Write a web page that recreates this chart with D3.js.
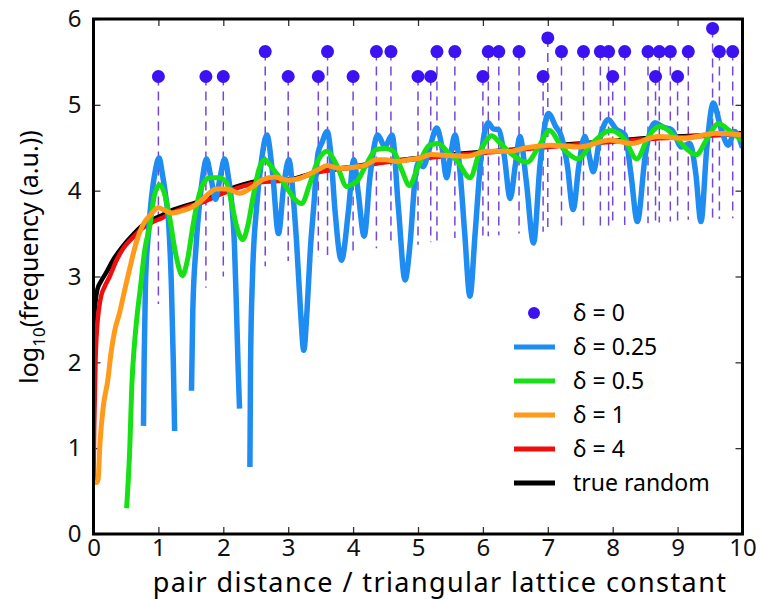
<!DOCTYPE html>
<html>
<head>
<meta charset="utf-8">
<script src="https://cdn.jsdelivr.net/npm/d3@7"></script>
<style>
  body { margin: 0; background: #fff; }
  svg { display: block; font-family: "Noto Sans", "Open Sans", sans-serif; }
</style>
</head>
<body>
<svg id="chart" width="760" height="599"></svg>
<script>
// lattice distances (delta = 0) and their log10 frequency
const distances = [1, 1.732, 2, 2.646, 3, 3.464, 3.606, 4, 4.359, 4.583, 5, 5.196, 5.292, 5.568,
  6, 6.083, 6.245, 6.557, 6.928, 7, 7.211, 7.55, 7.81, 7.937, 8, 8.185, 8.544, 8.66, 8.718,
  8.888, 9, 9.165, 9.539, 9.644, 9.849];
const deltaZero = [5.33, 5.33, 5.33, 5.62, 5.33, 5.33, 5.62, 5.33, 5.62, 5.62, 5.33, 5.33, 5.62, 5.62,
  5.33, 5.62, 5.62, 5.62, 5.33, 5.78, 5.62, 5.62, 5.62, 5.62, 5.33, 5.62, 5.62, 5.33, 5.62,
  5.62, 5.33, 5.62, 5.89, 5.62, 5.62];
// lower end of each dashed stem
const stemBase = [2.68, 2.87, 3.0, 3.12, 3.18, 3.23, 3.25, 3.29, 3.33, 3.35, 3.37, 3.4, 3.41, 3.45,
  3.47, 3.47, 3.48, 3.5, 3.52, 3.52, 3.54, 3.57, 3.58, 3.58, 3.59, 3.6, 3.62, 3.63, 3.63,
  3.64, 3.65, 3.66, 3.67, 3.67, 3.68];

// [x, log10 freq]; null = no counts (gap)
const delta025 = [[0.77,1.26],[0.78,2.0],[0.8,2.9],[0.84,3.45],[0.89,3.89],[0.95,4.22],[1.01,4.38],
  [1.06,4.2],[1.11,3.95],[1.16,3.6],[1.2,2.9],[1.23,2.0],[1.25,1.2],[1.38,null],
  [1.51,1.67],[1.53,2.6],[1.58,3.35],[1.64,3.89],[1.69,4.2],[1.74,4.37],[1.81,4.15],[1.88,3.9],
  [1.95,4.15],[2.02,4.37],[2.08,4.15],[2.13,3.85],[2.17,3.4],[2.2,2.7],[2.23,1.9],[2.25,1.46],[2.33,null],
  [2.41,0.78],[2.42,2.0],[2.45,3.0],[2.51,3.78],[2.59,4.36],[2.67,4.65],[2.76,4.2],[2.85,3.5],
  [2.93,4.05],[3.01,4.36],[3.08,3.9],[3.13,3.39],[3.19,2.6],[3.24,2.14],[3.29,2.6],[3.34,3.3],
  [3.39,3.78],[3.46,4.44],[3.52,4.56],[3.6,4.69],[3.66,4.4],[3.72,3.78],[3.82,3.19],[3.93,3.78],
  [4.01,4.36],[4.08,3.97],[4.17,3.47],[4.26,4.16],[4.38,4.65],[4.49,4.51],[4.6,4.65],[4.7,3.78],
  [4.8,2.96],[4.88,3.4],[4.95,4.1],[5.0,4.32],[5.08,4.28],[5.18,4.5],[5.29,4.73],[5.37,4.5],
  [5.44,4.15],[5.5,4.4],[5.57,4.65],[5.65,4.2],[5.72,3.5],[5.8,2.77],[5.88,3.5],[5.96,4.3],
  [6.08,4.79],[6.16,4.72],[6.24,4.71],[6.33,4.4],[6.42,3.91],[6.5,4.3],[6.57,4.63],[6.67,4.1],
  [6.78,3.39],[6.88,4.3],[7.01,4.9],[7.12,4.75],[7.21,4.63],[7.3,4.3],[7.39,3.78],[7.48,4.3],
  [7.57,4.63],[7.64,4.4],[7.7,4.22],[7.8,4.6],[7.93,4.83],[8.05,4.72],[8.19,4.65],[8.28,4.2],
  [8.38,3.64],[8.5,4.4],[8.65,4.79],[8.78,4.74],[8.91,4.71],[9.06,4.51],[9.19,4.55],[9.28,4.2],
  [9.36,3.64],[9.45,4.5],[9.55,5.02],[9.66,4.75],[9.78,4.53],[9.88,4.69],[10.0,4.5]];

const delta05 = [[0.51,0.3],[0.56,1.02],[0.59,1.72],[0.63,2.2],[0.68,2.6],[0.72,2.85],[0.79,3.31],
  [0.87,3.6],[0.94,3.95],[1.02,4.07],[1.1,3.95],[1.17,3.7],[1.27,3.25],[1.37,3.01],[1.45,3.2],
  [1.53,3.58],[1.61,3.9],[1.69,4.08],[1.79,4.15],[1.94,4.15],[2.05,4.09],[2.13,3.85],[2.2,3.6],
  [2.3,3.43],[2.38,3.6],[2.46,3.93],[2.55,4.25],[2.64,4.36],[2.72,4.3],[2.8,4.22],[2.9,4.12],
  [3.0,4.01],[3.1,3.9],[3.21,3.85],[3.32,4.05],[3.44,4.32],[3.6,4.46],[3.69,4.38],[3.77,4.26],
  [3.9,4.05],[4.0,4.08],[4.06,4.11],[4.2,4.3],[4.36,4.48],[4.49,4.49],[4.62,4.46],[4.75,4.24],
  [4.87,4.06],[4.98,4.24],[5.1,4.45],[5.18,4.53],[5.31,4.55],[5.47,4.44],[5.6,4.35],[5.8,4.15],
  [5.95,4.45],[6.05,4.58],[6.13,4.64],[6.26,4.56],[6.42,4.44],[6.68,4.33],[6.85,4.5],[7.03,4.7],
  [7.18,4.55],[7.29,4.45],[7.46,4.37],[7.68,4.55],[7.97,4.7],[8.19,4.59],[8.37,4.37],[8.55,4.63],
  [8.73,4.75],[8.96,4.63],[9.12,4.5],[9.29,4.42],[9.45,4.6],[9.63,4.78],[9.8,4.7],[10.0,4.58]];

const delta1 = [[0.0,0.6],[0.05,0.6],[0.07,0.63],[0.1,1.06],[0.15,1.48],[0.22,1.79],[0.27,2.11],
  [0.33,2.38],[0.4,2.57],[0.48,2.84],[0.56,3.1],[0.66,3.4],[0.76,3.6],[0.88,3.72],[1.0,3.8],
  [1.1,3.77],[1.2,3.74],[1.38,3.77],[1.5,3.8],[1.64,3.87],[1.8,3.98],[1.89,4.02],[2.05,4.02],
  [2.25,3.97],[2.46,4.05],[2.61,4.13],[2.8,4.16],[3.0,4.12],[3.2,4.15],[3.45,4.24],[3.6,4.29],
  [3.8,4.26],[3.97,4.27],[4.2,4.3],[4.36,4.36],[4.5,4.36],[4.67,4.34],[4.85,4.36],[5.03,4.38],
  [5.2,4.42],[5.49,4.41],[5.75,4.4],[6.06,4.46],[6.42,4.46],[6.67,4.5],[7.03,4.53],[7.5,4.51],
  [7.96,4.59],[8.29,4.55],[8.7,4.63],[9.11,4.61],[9.58,4.67],[10.0,4.65]];

const delta4 = [[0.0,0.6],[0.01,1.2],[0.02,1.6],[0.03,1.99],[0.05,2.35],[0.08,2.6],[0.12,2.78],
  [0.17,2.88],[0.25,3.0],[0.35,3.18],[0.46,3.33],[0.6,3.45],[0.75,3.56],[0.9,3.63],[1.05,3.68],
  [1.2,3.74],[1.4,3.8],[1.7,3.87],[2.0,3.97],[2.3,4.05],[2.6,4.1],[3.0,4.12],[3.5,4.22],[4.0,4.27],
  [4.5,4.33],[5.0,4.37],[5.5,4.41],[6.0,4.44],[6.5,4.47],[7.0,4.51],[7.5,4.54],[8.0,4.57],
  [8.5,4.6],[9.0,4.62],[9.5,4.64],[10.0,4.66]];

const trueRandom = [[0.0,2.2],[0.01,2.5],[0.03,2.7],[0.06,2.85],[0.12,2.95],[0.2,3.05],[0.3,3.19],
  [0.46,3.36],[0.6,3.48],[0.75,3.59],[0.9,3.66],[1.05,3.71],[1.2,3.77],[1.4,3.82],[1.7,3.89],
  [2.0,3.99],[2.3,4.07],[2.6,4.12],[3.0,4.13],[3.5,4.23],[4.0,4.28],[4.5,4.34],[5.0,4.38],
  [5.5,4.42],[6.0,4.45],[6.5,4.48],[7.0,4.52],[7.5,4.55],[8.0,4.58],[8.5,4.61],[9.0,4.63],
  [9.5,4.65],[10.0,4.67]];

const xTicks = [0, 1, 2, 3, 4, 5, 6, 7, 8, 9, 10];
const yTicks = [0, 1, 2, 3, 4, 5, 6];

const series = [
  { name: "true random", data: trueRandom, color: "#000000", width: 4.5 },
  { name: "δ = 4", data: delta4, color: "#f20d0d", width: 4.5 },
  { name: "δ = 0.25", data: delta025, color: "#1e8cf0", width: 5.5 },
  { name: "δ = 0.5", data: delta05, color: "#17e017", width: 5 },
  { name: "δ = 1", data: delta1, color: "#ff9a1a", width: 5 }
];
const legendOrder = ["δ = 0.25", "δ = 0.5", "δ = 1", "δ = 4", "true random"];
const dotColor = "#3c12f2";
const stemColor = "#7447d6";

const svg = d3.select("#chart");
const margin = { top: 19, right: 17.5, bottom: 65, left: 93.5 };
const width = 760 - margin.left - margin.right;
const height = 599 - margin.top - margin.bottom;

const x = d3.scaleLinear().domain([0, 10]).range([0, width]);
const y = d3.scaleLinear().domain([0, 6]).range([height, 0]);

const g = svg.append("g").attr("transform", `translate(${margin.left},${margin.top})`);

svg.append("defs").append("clipPath").attr("id", "plot-clip")
  .append("rect").attr("width", width).attr("height", height);

// ticks (inward on all four sides)
const fontSize = 24;
g.append("g").attr("transform", `translate(0,${height})`)
  .call(d3.axisBottom(x).tickValues(xTicks).tickSizeInner(-7).tickSizeOuter(0).tickPadding(5)
    .tickFormat(d3.format("d")));
g.append("g")
  .call(d3.axisLeft(y).tickValues(yTicks).tickSizeInner(-7).tickSizeOuter(0).tickPadding(12)
    .tickFormat(d3.format("d")));
g.append("g")
  .call(d3.axisTop(x).tickValues(xTicks).tickSizeInner(-7).tickSizeOuter(0).tickFormat(""));
g.append("g").attr("transform", `translate(${width},0)`)
  .call(d3.axisRight(y).tickValues(yTicks).tickSizeInner(-7).tickSizeOuter(0).tickFormat(""));
g.selectAll(".domain").remove();
g.selectAll(".tick line").attr("stroke", "#333").attr("stroke-width", 1.3);
g.selectAll(".tick text").attr("font-size", fontSize).attr("fill", "#111")
  .attr("font-family", "'Noto Sans', 'Open Sans', sans-serif");

const plot = g.append("g").attr("clip-path", "url(#plot-clip)");

// dashed stems
plot.selectAll("line.stem")
  .data(distances)
  .enter().append("line")
    .attr("class", "stem")
    .attr("x1", d => x(d)).attr("x2", d => x(d))
    .attr("y1", (d, i) => y(deltaZero[i]))
    .attr("y2", (d, i) => y(stemBase[i]))
    .attr("stroke", stemColor)
    .attr("stroke-width", 1.5)
    .attr("stroke-dasharray", "9,6");

const line = d3.line()
  .defined(d => d[1] !== null)
  .x(d => x(d[0]))
  .y(d => y(d[1]))
  .curve(d3.curveMonotoneX);

series.forEach(s => {
  plot.append("path")
    .datum(s.data)
    .attr("d", line)
    .attr("fill", "none")
    .attr("stroke", s.color)
    .attr("stroke-width", s.width)
    .attr("stroke-linejoin", "round");
});

// delta = 0 points
plot.selectAll("circle.dot")
  .data(distances)
  .enter().append("circle")
    .attr("class", "dot")
    .attr("cx", d => x(d))
    .attr("cy", (d, i) => y(deltaZero[i]))
    .attr("r", 6.5)
    .attr("fill", dotColor);

// frame
g.append("rect").attr("width", width).attr("height", height)
  .attr("fill", "none").attr("stroke", "#000").attr("stroke-width", 3);

// legend
const legend = svg.append("g").attr("transform", "translate(514,313)");
const rowH = 34;
legend.append("circle").attr("cx", 20).attr("cy", 0).attr("r", 6).attr("fill", dotColor);
legend.append("text").attr("x", 59).attr("y", 8).attr("font-size", 23).text("δ = 0");
legendOrder.forEach((name, i) => {
  const s = series.find(d => d.name === name);
  const yy = (i + 1) * rowH;
  legend.append("line").attr("x1", 0).attr("x2", 41).attr("y1", yy).attr("y2", yy)
    .attr("stroke", s.color).attr("stroke-width", 5);
  legend.append("text").attr("x", 59).attr("y", yy + 8).attr("font-size", 23).text(name);
});

// axis titles
svg.append("text")
  .attr("x", 440)
  .attr("y", 592)
  .attr("text-anchor", "middle")
  .attr("font-size", 27)
  .attr("letter-spacing", 1.4)
  .text("pair distance / triangular lattice constant");

const yTitle = svg.append("text")
  .attr("transform", "translate(38,257) rotate(-90)")
  .attr("text-anchor", "middle")
  .attr("font-size", 25);
yTitle.append("tspan").text("log");
yTitle.append("tspan").attr("font-size", 17).attr("dy", 7).text("10");
yTitle.append("tspan").attr("dy", -7).text("(frequency (a.u.))");
</script>
</body>
</html>
